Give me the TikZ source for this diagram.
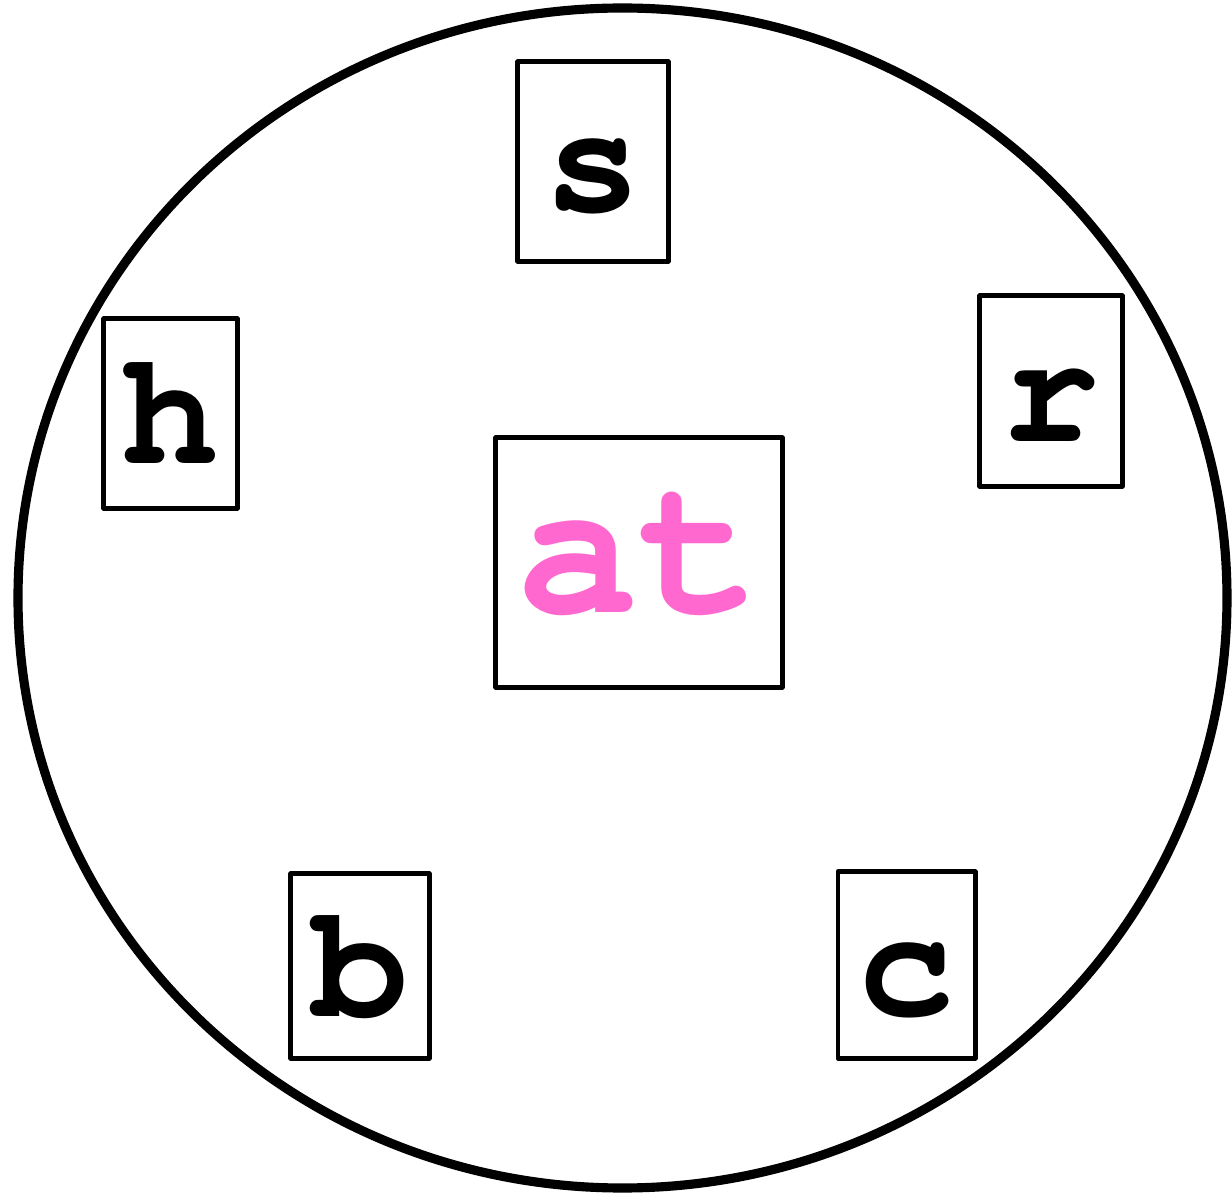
\documentclass[tikz,border=0pt]{standalone}
\usepackage[T1]{fontenc}
\definecolor{wordpink}{RGB}{255,105,207}

\begin{document}
\begin{tikzpicture}[
    x=0.01cm, y=-0.01cm,
    letterbox/.style={rectangle, draw, line width=1.4pt, line join=round, inner sep=0pt,
        text height=1cm, text depth=0pt,
        font=\fontencoding{T1}\fontfamily{pcr}\fontseries{b}\fontsize{46}{46}\selectfont},
    wordbox/.style={letterbox,
        font=\fontencoding{T1}\fontfamily{pcr}\fontseries{b}\fontsize{58}{58}\selectfont, text=wordpink}
]
\useasboundingbox (0,0) rectangle (1232,1194);

% outer ring
\draw[line width=2.6pt] (622.5,598) ellipse [x radius=604.5, y radius=590];

% centre word
\node[wordbox, minimum width=2.86cm, minimum height=2.49cm] (at) at (639,562.5) {at};

% letters round the ring
\node[letterbox, minimum width=1.50cm, minimum height=1.99cm] (s) at (593,161.5) {s};
\node[letterbox, minimum width=1.42cm, minimum height=1.90cm] (r) at (1051,391) {r};
\node[letterbox, minimum width=1.33cm, minimum height=1.89cm] (h) at (170.5,413.5) {h};
\node[letterbox, minimum width=1.38cm, minimum height=1.84cm] (b) at (360,966) {b};
\node[letterbox, minimum width=1.37cm, minimum height=1.86cm] (c) at (906.5,965) {c};

\end{tikzpicture}
\end{document}
